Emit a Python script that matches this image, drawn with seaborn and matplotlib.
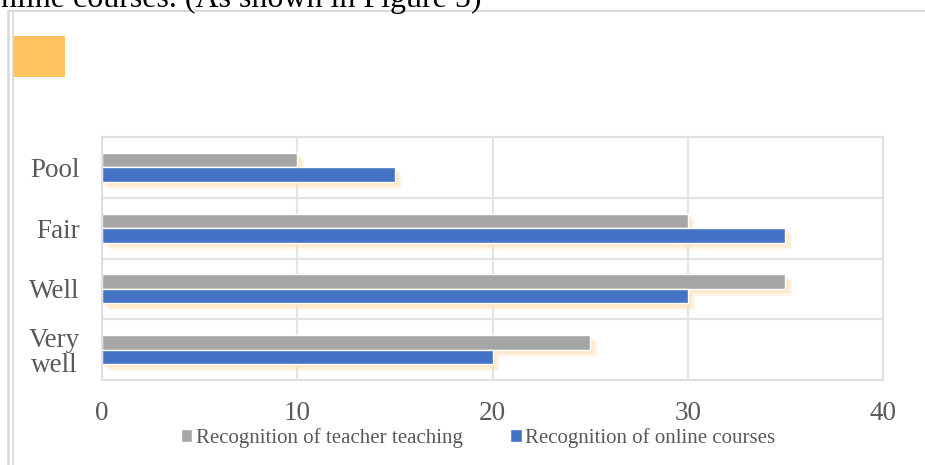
import pandas as pd
import matplotlib.pyplot as plt
import matplotlib.patheffects as pe
from matplotlib.lines import Line2D
from matplotlib.patches import Rectangle
import seaborn as sns

sns.set_style('white')
plt.rcParams['font.family'] = ['Liberation Serif', 'DejaVu Serif']

ratings = ['Pool', 'Fair', 'Well', 'Very\nwell']
teacher = [10, 30, 35, 25]
online = [15, 35, 30, 20]
series = ['Recognition of teacher teaching', 'Recognition of online courses']
colors = ['#A5A5A5', '#4472C4']

df = pd.DataFrame({
    'rating': ratings * 2,
    'value': teacher + online,
    'series': [series[0]] * 4 + [series[1]] * 4,
})

fig = plt.figure(figsize=(9.25, 4.65), dpi=100)
ax = fig.add_axes([102/925, 1 - 380/465, 781/925, 243/465])

sns.barplot(data=df, x='value', y='rating', hue='series', hue_order=series,
            palette=colors, orient='h', width=0.48, saturation=1, ax=ax)

ax.set_xlim(0, 40)
ax.set_ylim(3.5, -0.5)
ax.set_xticks([0, 10, 20, 30, 40])
ax.set_yticks([0.5, 1.5, 2.5], minor=True)
ax.grid(True, axis='x', color='#e3e3e3', lw=1.5)
ax.grid(True, axis='y', which='minor', color='#e3e3e3', lw=1.5)
ax.grid(False, axis='y', which='major')
ax.set_axisbelow(True)
for s in ax.spines.values():
    s.set_color('#e0e0e0')
    s.set_linewidth(1.5)
ax.tick_params(axis='both', which='both', length=0, colors='#595959', labelsize=19.5)
ax.tick_params(axis='x', pad=15)
ax.tick_params(axis='y', pad=16)
for t in ax.get_yticklabels():
    t.set_multialignment('center')
    t.set_linespacing(1.0)
ax.set_xlabel('')
ax.set_ylabel('')

handles, labels = ax.get_legend_handles_labels()
ax.get_legend().remove()
fig.legend(handles, labels, loc='center', bbox_to_anchor=(478/925, 1 - 438/465),
           ncol=2, frameon=False, fontsize=15, handlelength=0.55, handleheight=0.55,
           handletextpad=0.15, columnspacing=2.3, labelcolor='#595959')

# soft orange glow under the bars (a few stacked shadows to fake a blur)
glow = [pe.SimplePatchShadow(offset=(o, -o), shadow_rgbFace='#FFE3B8', alpha=a)
        for o, a in [(5, 0.25), (4, 0.3), (3, 0.35), (2, 0.4)]]
for bar in ax.patches:
    bar.set_path_effects(glow + [pe.Normal()])

# page decorations around the chart
fig.text(-15/925, 1 - 7/465, 'online courses. (As shown in Figure 5)', fontsize=23,
         va='baseline', ha='left', color='black')
fig.add_artist(Line2D([8/925, 1], [1 - 11/465, 1 - 11/465], color='#d9d9d9', lw=1.5))
fig.add_artist(Line2D([8.3/925, 8.3/925], [0, 1 - 11/465], color='#d9d9d9', lw=1.8))
fig.add_artist(Line2D([12.7/925, 12.7/925], [0, 1 - 11/465], color='#d9d9d9', lw=1.2))
fig.add_artist(Rectangle((13/925, 1 - 77/465), 52/925, 41/465, transform=fig.transFigure,
                         color='#FFC35F', lw=0))

fig.savefig('out.png', dpi=100)
